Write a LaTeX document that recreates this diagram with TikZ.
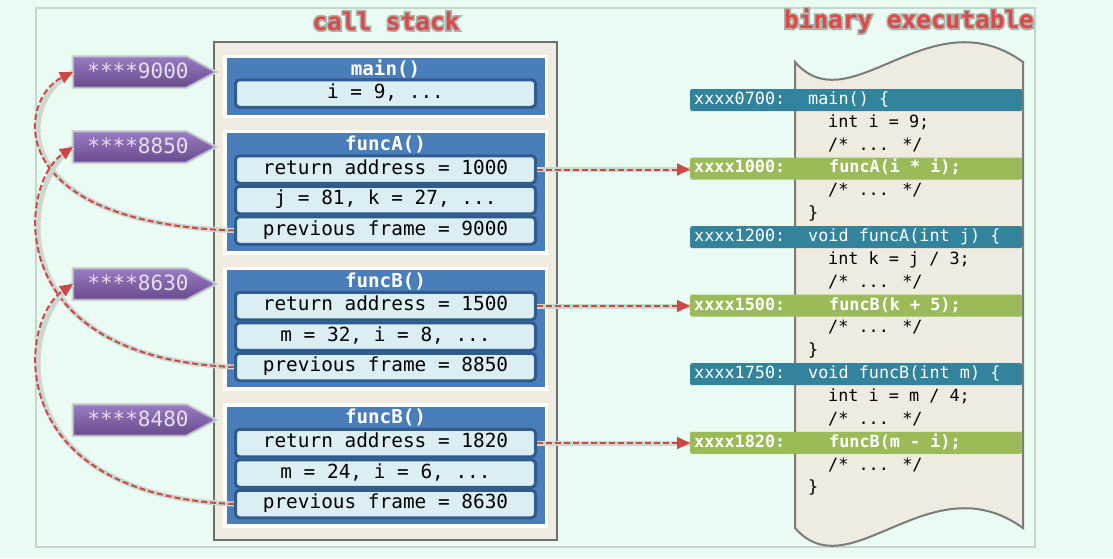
\documentclass[tikz,border=0pt]{standalone}
\usepackage{fontspec}
\setmainfont{DejaVu Sans Mono}
\newfontfamily\haloface{DejaVu Sans Mono}[UprightFeatures={FakeBold=14}, BoldFeatures={FakeBold=14}]
\usetikzlibrary{shapes.symbols,arrows.meta}
\definecolor{bgmint}{HTML}{E9FBF2}
\definecolor{frameline}{HTML}{C3D6CB}
\definecolor{stackfill}{HTML}{EEEBE1}
\definecolor{stackline}{HTML}{6F6F6F}
\definecolor{framefill}{HTML}{4A7EBB}
\definecolor{fieldfill}{HTML}{DBEEF4}
\definecolor{fieldline}{HTML}{2F5B8D}
\definecolor{tagtop}{HTML}{987BC0}
\definecolor{tagbot}{HTML}{6A4B8E}
\definecolor{tagline}{HTML}{B3A2D0}
\definecolor{tagtext}{HTML}{E6E0EE}
\definecolor{callgreen}{HTML}{9BBB59}
\definecolor{entryblue}{HTML}{31849B}
\definecolor{linkred}{HTML}{CF4646}
\definecolor{glowgray}{HTML}{CCD7CF}
\definecolor{titleglow}{HTML}{A8B4AD}
\definecolor{titlered}{HTML}{E04848}
\definecolor{scrollline}{HTML}{7B7B7B}
\tikzset{
  titletext/.style={text=titlered, inner sep=0, font=\fontsize{24.4}{28}\selectfont\bfseries},
  titlehalo/.style={titletext, text=titleglow, font=\haloface\fontsize{24.4}{28}\selectfont\bfseries},
  frametitle/.style={text=white, inner sep=0, font=\fontsize{19.2}{22}\selectfont\bfseries,
    text height=14, text depth=4},
  field/.style={draw=fieldline, line width=3, fill=fieldfill, rounded corners=4,
    minimum width=300, minimum height=27.5, inner sep=0,
    font=\fontsize{19.4}{22}\selectfont, text height=14, text depth=4.2},
  tagbox/.style={signal, signal to=east, signal pointer angle=56, anchor=west,
    minimum height=30, minimum width=141, inner sep=0,
    top color=tagtop, bottom color=tagbot, draw=tagline, line width=1,
    preaction={draw=glowgray, line width=4}},
  tagtext/.style={text=tagtext, inner sep=0, font=\fontsize{21}{24}\selectfont,
    text height=15, text depth=2},
  scroll/.style={fill=stackfill, draw=scrollline, line width=2},
  entrybar/.style={fill=entryblue, anchor=west, minimum width=332, minimum height=22,
    rounded corners=2, inner sep=0},
  callbar/.style={entrybar, fill=callgreen},
  codetext/.style={inner sep=0, anchor=west, font=\fontsize{16.8}{20}\selectfont,
    text height=12.3, text depth=3.5},
  entrytext/.style={codetext, text=white},
  calltext/.style={codetext, text=white, font=\fontsize{16.8}{20}\selectfont\bfseries},
  link/.style={linkred, line width=2, dash pattern=on 6pt off 3pt, ->,
    preaction={draw=glowgray, line width=5, solid, arrows=-}}
}

\begin{document}
\begin{tikzpicture}[x=1pt, y=-1pt, >={Triangle[length=13pt, width=12pt]}]
  \fill[bgmint] (0,0) rectangle (1113,558);
  \useasboundingbox (0,0) rectangle (1113,558);
  \draw[frameline, line width=1.5] (36,8) rectangle (1035,547);

  % titles with a grey halo
  \node[titlehalo] (cshalo) at (386,21) {call stack};
  \node[titlehalo] (behalo) at (909,21) {binary executable};
  \node[titletext] (cstitle) at (386,21) {call stack};
  \node[titletext] (betitle) at (909,21) {binary executable};

  % call stack
  \filldraw[fill=stackfill, draw=stackline, line width=2] (214,42) rectangle (557,540);

  \fill[white] (223,55) rectangle (548,118);
  \fill[framefill] (227,58) rectangle (545,115);
  \node[frametitle] (tmain) at (385.5,70) {main()};
  \node[field] (fmain) at (385.5,93.5) {i = 9, ...};

  \fill[white] (223,130) rectangle (548,255);
  \fill[framefill] (227,133) rectangle (545,251);
  \node[frametitle] (tfa) at (385.5,145.5) {funcA()};
  \node[field] (faret) at (385.5,169.5) {return address = 1000};
  \node[field] (faloc) at (385.5,200) {j = 81, k = 27, ...};
  \node[field] (faprev) at (385.5,230.5) {previous frame = 9000};

  \fill[white] (223,267) rectangle (548,391);
  \fill[framefill] (227,270) rectangle (545,387);
  \node[frametitle] (tfb) at (385.5,282) {funcB()};
  \node[field] (fbret) at (385.5,306) {return address = 1500};
  \node[field] (fbloc) at (385.5,336.5) {m = 32, i = 8, ...};
  \node[field] (fbprev) at (385.5,367) {previous frame = 8850};

  \fill[white] (223,403) rectangle (548,528);
  \fill[framefill] (227,407) rectangle (545,524);
  \node[frametitle] (tfc) at (385.5,418) {funcB()};
  \node[field] (fcret) at (385.5,443) {return address = 1820};
  \node[field] (fcloc) at (385.5,473.5) {m = 24, i = 6, ...};
  \node[field] (fcprev) at (385.5,504) {previous frame = 8630};

  % frame pointers
  \node[tagbox] (p9000) at (73,72) {};
  \node[tagtext] (n9000) at (138,72) {****9000};
  \node[tagbox] (p8850) at (73,147) {};
  \node[tagtext] (n8850) at (138,147) {****8850};
  \node[tagbox] (p8630) at (73,284) {};
  \node[tagtext] (n8630) at (138,284) {****8630};
  \node[tagbox] (p8480) at (73,420) {};
  \node[tagtext] (n8480) at (138,420) {****8480};

  % binary executable
  \filldraw[scroll] (795,62) .. controls (850,125) and (930,-5) .. (1023,62)
    -- (1023,528) .. controls (930,461) and (850,591) .. (795,528) -- cycle;

  \node[entrybar] (e0700) at (690,100) {};
  \node[entrytext] (a0700) at (694,100) {xxxx0700:};
  \node[entrytext] (c0700) at (808,100) {main() \{};
  \node[codetext] (l1) at (828,122.85) {int i = 9;};
  \node[codetext] (l2) at (828,145.7) {/* ... */};
  \node[callbar] (r1000) at (690,168.55) {};
  \node[calltext] (a1000) at (694,168.55) {xxxx1000:};
  \node[calltext] (c1000) at (829,168.55) {funcA(i * i);};
  \node[codetext] (l4) at (828,191.4) {/* ... */};
  \node[codetext] (l5) at (808,214.25) {\}};
  \node[entrybar] (e1200) at (690,237.1) {};
  \node[entrytext] (a1200) at (694,237.1) {xxxx1200:};
  \node[entrytext] (c1200) at (808,237.1) {void funcA(int j) \{};
  \node[codetext] (l7) at (828,259.95) {int k = j / 3;};
  \node[codetext] (l8) at (828,282.8) {/* ... */};
  \node[callbar] (r1500) at (690,305.65) {};
  \node[calltext] (a1500) at (694,305.65) {xxxx1500:};
  \node[calltext] (c1500) at (829,305.65) {funcB(k + 5);};
  \node[codetext] (l10) at (828,328.5) {/* ... */};
  \node[codetext] (l11) at (808,351.35) {\}};
  \node[entrybar] (e1750) at (690,374.2) {};
  \node[entrytext] (a1750) at (694,374.2) {xxxx1750:};
  \node[entrytext] (c1750) at (808,374.2) {void funcB(int m) \{};
  \node[codetext] (l13) at (828,397.05) {int i = m / 4;};
  \node[codetext] (l14) at (828,419.9) {/* ... */};
  \node[callbar] (r1820) at (690,442.75) {};
  \node[calltext] (a1820) at (694,442.75) {xxxx1820:};
  \node[calltext] (c1820) at (829,442.75) {funcB(m - i);};
  \node[codetext] (l16) at (828,465.6) {/* ... */};
  \node[codetext] (l17) at (808,488.45) {\}};

  % return addresses
  \draw[link] (faret.east) -- (faret.east -| r1000.west);
  \draw[link] (fbret.east) -- (fbret.east -| r1500.west);
  \draw[link] (fcret.east) -- (fcret.east -| r1820.west);

  % previous frames
  \draw[link] (faprev.west) .. controls +(-234,-8) and +(-55,27) .. (p9000.west);
  \draw[link] (fbprev.west) .. controls +(-234,-9) and +(-55,37) .. (p8850.west);
  \draw[link] (fcprev.west) .. controls +(-234,-9) and +(-55,37) .. (p8630.west);
\end{tikzpicture}
\end{document}
